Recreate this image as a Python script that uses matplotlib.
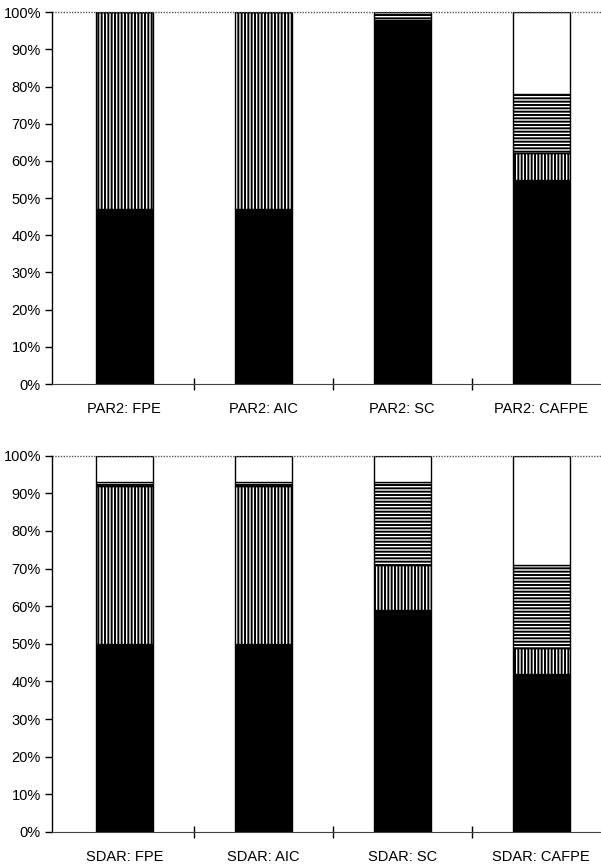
import matplotlib
matplotlib.use("Agg")
import matplotlib.pyplot as plt
from matplotlib.ticker import FixedLocator, PercentFormatter

plt.rcParams['font.family'] = ['Liberation Sans', 'DejaVu Sans']
plt.rcParams['hatch.linewidth'] = 1.4

# percentage of runs per selected model order class
par2_labels = ["PAR2: FPE", "PAR2: AIC", "PAR2: SC", "PAR2: CAFPE"]
par2_black = [47, 47, 97.5, 55]
par2_vert = [53, 53, 0.5, 7]
par2_horiz = [0, 0, 1.5, 16]
par2_white = [0, 0, 0.5, 22]

sdar_labels = ["SDAR: FPE", "SDAR: AIC", "SDAR: SC", "SDAR: CAFPE"]
sdar_black = [50, 50, 59, 42]
sdar_vert = [42, 42, 12, 7]
sdar_horiz = [1, 1, 22, 22]
sdar_white = [7, 7, 7, 29]

yticks = list(range(0, 101, 10))


def draw_panel(ax, labels, black, vert, horiz, white):
    x = list(range(len(labels)))
    w = 0.41
    bottom = [0] * len(labels)
    layers = [
        (black, "black", None),
        (vert, "white", "|||||"),
        (horiz, "white", "-----"),
        (white, "white", None),
    ]
    for vals, fc, hatch in layers:
        ax.bar(x, vals, w, bottom=bottom, color=fc, edgecolor="black",
               linewidth=1.0, hatch=hatch)
        bottom = [b + v for b, v in zip(bottom, vals)]

    ax.set_xlim(-0.52, 3.43)
    ax.set_ylim(0, 100)
    ax.axhline(100, color="#555555", linestyle=(0, (1, 1)), linewidth=1.0,
               clip_on=False)
    for s in ["top", "right"]:
        ax.spines[s].set_visible(False)
    ax.spines["left"].set_linewidth(1.0)
    ax.spines["bottom"].set_color("#444444")
    ax.spines["bottom"].set_linestyle((0, (2, 1)))

    ax.set_yticks(yticks)
    ax.yaxis.set_major_formatter(PercentFormatter(decimals=0))
    ax.tick_params(axis="y", direction="out", length=5, width=1, pad=3,
                   labelsize=10.5)

    ax.set_xticks(x)
    ax.set_xticklabels(labels)
    ax.tick_params(axis="x", which="major", length=0, pad=13, labelsize=10.5)
    ax.xaxis.set_minor_locator(FixedLocator([0.5, 1.5, 2.5]))
    ax.tick_params(axis="x", which="minor", direction="inout", length=9,
                   width=1)


fig = plt.figure(figsize=(6.01, 8.67), dpi=100)
ax1 = fig.add_axes([0.0865, 0.557, 0.9135, 0.429])
ax2 = fig.add_axes([0.0865, 0.0404, 0.9135, 0.434])

draw_panel(ax1, par2_labels, par2_black, par2_vert, par2_horiz, par2_white)
draw_panel(ax2, sdar_labels, sdar_black, sdar_vert, sdar_horiz, sdar_white)

fig.savefig("out.png", dpi=100)
